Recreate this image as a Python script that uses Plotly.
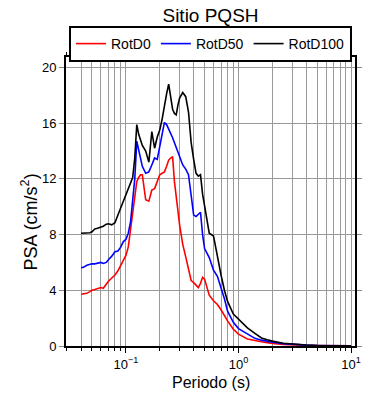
import plotly.graph_objects as go

periods = [0.040, 0.042, 0.045, 0.048, 0.050, 0.053, 0.056, 0.060, 0.063, 0.067,
           0.070, 0.075, 0.080, 0.085, 0.090, 0.095, 0.100, 0.105, 0.110, 0.115,
           0.120, 0.125, 0.130, 0.135, 0.140, 0.150, 0.160, 0.170, 0.180, 0.190,
           0.200, 0.210, 0.220, 0.230, 0.240, 0.250, 0.260, 0.270, 0.280, 0.290,
           0.300, 0.320, 0.340, 0.360, 0.380, 0.400, 0.420, 0.440, 0.460, 0.480,
           0.500, 0.550, 0.600, 0.650, 0.700, 0.750, 0.800, 0.900, 1.0, 1.2,
           1.4, 1.6, 1.8, 2.0, 2.5, 3.0, 3.5, 4.0, 5.0, 6.0,
           7.0, 8.0, 9.0, 10.0]

rotd100 = [8.09, 8.10, 8.12, 8.13, 8.20, 8.40, 8.45, 8.54, 8.60, 8.75,
           8.78, 8.70, 8.85, 9.40, 9.90, 10.40, 10.90, 11.20, 11.60, 12.10,
           13.50, 15.90, 15.20, 14.80, 14.40, 14.00, 13.20, 15.40, 14.20, 15.00,
           15.50, 16.30, 17.30, 18.10, 18.80, 17.80, 17.00, 16.70, 16.60, 17.30,
           17.80, 18.20, 17.90, 16.80, 14.60, 13.40, 12.40, 12.20, 12.30, 10.90,
           10.00, 8.10, 7.90, 6.30, 5.10, 4.00, 3.20, 2.30, 1.95, 1.30,
           0.90, 0.58, 0.45, 0.35, 0.20, 0.13, 0.09, 0.07, 0.04, 0.03,
           0.02, 0.015, 0.012, 0.010]

rotd50 = [5.62, 5.65, 5.80, 5.88, 5.90, 5.90, 5.95, 6.00, 5.93, 6.00,
          6.20, 6.45, 6.77, 6.82, 7.10, 7.50, 7.65, 8.10, 8.90, 10.40,
          12.00, 14.70, 14.00, 13.50, 12.90, 12.40, 12.50, 13.00, 13.50, 13.40,
          14.30, 15.20, 16.05, 15.90, 15.60, 15.30, 14.95, 14.60, 14.30, 14.00,
          13.60, 13.00, 12.70, 12.30, 10.80, 9.40, 9.30, 9.45, 9.60, 8.00,
          7.00, 6.35, 5.45, 5.00, 4.20, 3.40, 2.50, 1.70, 1.25, 0.85,
          0.55, 0.42, 0.33, 0.27, 0.17, 0.12, 0.08, 0.06, 0.04, 0.03,
          0.02, 0.015, 0.012, 0.010]

rotd0 = [3.71, 3.72, 3.78, 3.90, 4.00, 4.05, 4.10, 4.20, 4.14, 4.45,
         4.65, 4.88, 5.10, 5.40, 5.80, 6.20, 6.50, 7.10, 8.30, 9.60,
         10.80, 11.80, 12.10, 12.30, 12.30, 10.50, 10.40, 11.20, 11.30, 11.80,
         12.30, 12.40, 12.50, 12.90, 13.35, 13.50, 13.60, 11.80, 10.50, 9.70,
         8.70, 7.30, 6.40, 5.60, 4.70, 4.55, 4.40, 4.19, 4.50, 4.93,
         4.80, 3.65, 3.25, 2.98, 2.60, 2.15, 1.80, 1.20, 0.85, 0.50,
         0.37, 0.30, 0.24, 0.18, 0.12, 0.08, 0.06, 0.045, 0.03, 0.02,
         0.015, 0.012, 0.010, 0.008]

series_names = ["RotD0", "RotD50", "RotD100"]
series_colors = ["#ff0000", "#0000ff", "#000000"]

x_tickvals = [0.1, 1, 10]
x_ticktext = ["10<sup>−1</sup>", "10<sup>0</sup>", "10<sup>1</sup>"]
x_minor = [m * d for d in (0.01, 0.1, 1, 10) for m in range(2, 10)]
y_tickvals = [0, 4, 8, 12, 16, 20]

FONT = "Liberation Sans, Arial, sans-serif"
GRID = "#9a9a9a"
W, H = 390, 400

fig = go.Figure()
for name, vals, col in zip(series_names, [rotd0, rotd50, rotd100], series_colors):
    fig.add_trace(go.Scatter(x=periods, y=vals, mode="lines", name=name,
                             line=dict(color=col, width=1.6)))

fig.update_layout(
    width=W, height=H,
    margin=dict(l=66, r=35, t=57, b=54, autoexpand=False),
    paper_bgcolor="white", plot_bgcolor="white",
    font=dict(family=FONT, color="black", size=13),
    title=dict(text="Sitio PQSH", x=0.5, xref="paper", y=1 - 15.5 / H,
               yanchor="middle", xanchor="center",
               font=dict(size=19, family=FONT, color="black")),
    legend=dict(orientation="h", x=0.5, xanchor="center",
                y=(346 - 26) / 289, yanchor="top",
                bordercolor="black", borderwidth=2, font=dict(size=14),
                bgcolor="white"),
    showlegend=True,
)

fig.update_xaxes(type="log", range=[-1.5316, 1.0347], automargin=False,
                 tickvals=x_tickvals, ticktext=x_ticktext,
                 ticks="outside", ticklen=5, tickcolor="black", tickwidth=1,
                 showline=True, linecolor="black", linewidth=2, mirror="ticks",
                 showgrid=True, gridcolor=GRID, gridwidth=1,
                 minor=dict(tickvals=x_minor, ticks="outside", ticklen=3,
                            tickcolor="black", showgrid=True, gridcolor=GRID,
                            gridwidth=1),
                 zeroline=False, tickfont=dict(size=13))
fig.update_yaxes(range=[0, 20.75], tickvals=y_tickvals, automargin=False,
                 ticks="outside", ticklen=5, tickcolor="#888", tickwidth=1,
                 showline=True, linecolor="black", linewidth=2, mirror="ticks",
                 showgrid=True, gridcolor=GRID, gridwidth=1,
                 zeroline=False, tickfont=dict(size=13))

fig.add_annotation(text="PSA (cm/s<sup>2</sup>)", textangle=-90,
                   xref="paper", yref="paper", x=(30 - 66.5) / 288.2,
                   y=(346 - 222) / 289, showarrow=False,
                   xanchor="center", yanchor="middle", font=dict(size=18))
fig.add_annotation(text="Periodo (s)", xref="paper", yref="paper",
                   x=0.5, y=(346 - 382) / 289, showarrow=False,
                   xanchor="center", yanchor="middle", font=dict(size=16))

# remove the browser's default 8px body margin so the figure fills the window
fig.write_html("out.html", config={"displayModeBar": False},
               post_script="document.body.style.margin='0';")
